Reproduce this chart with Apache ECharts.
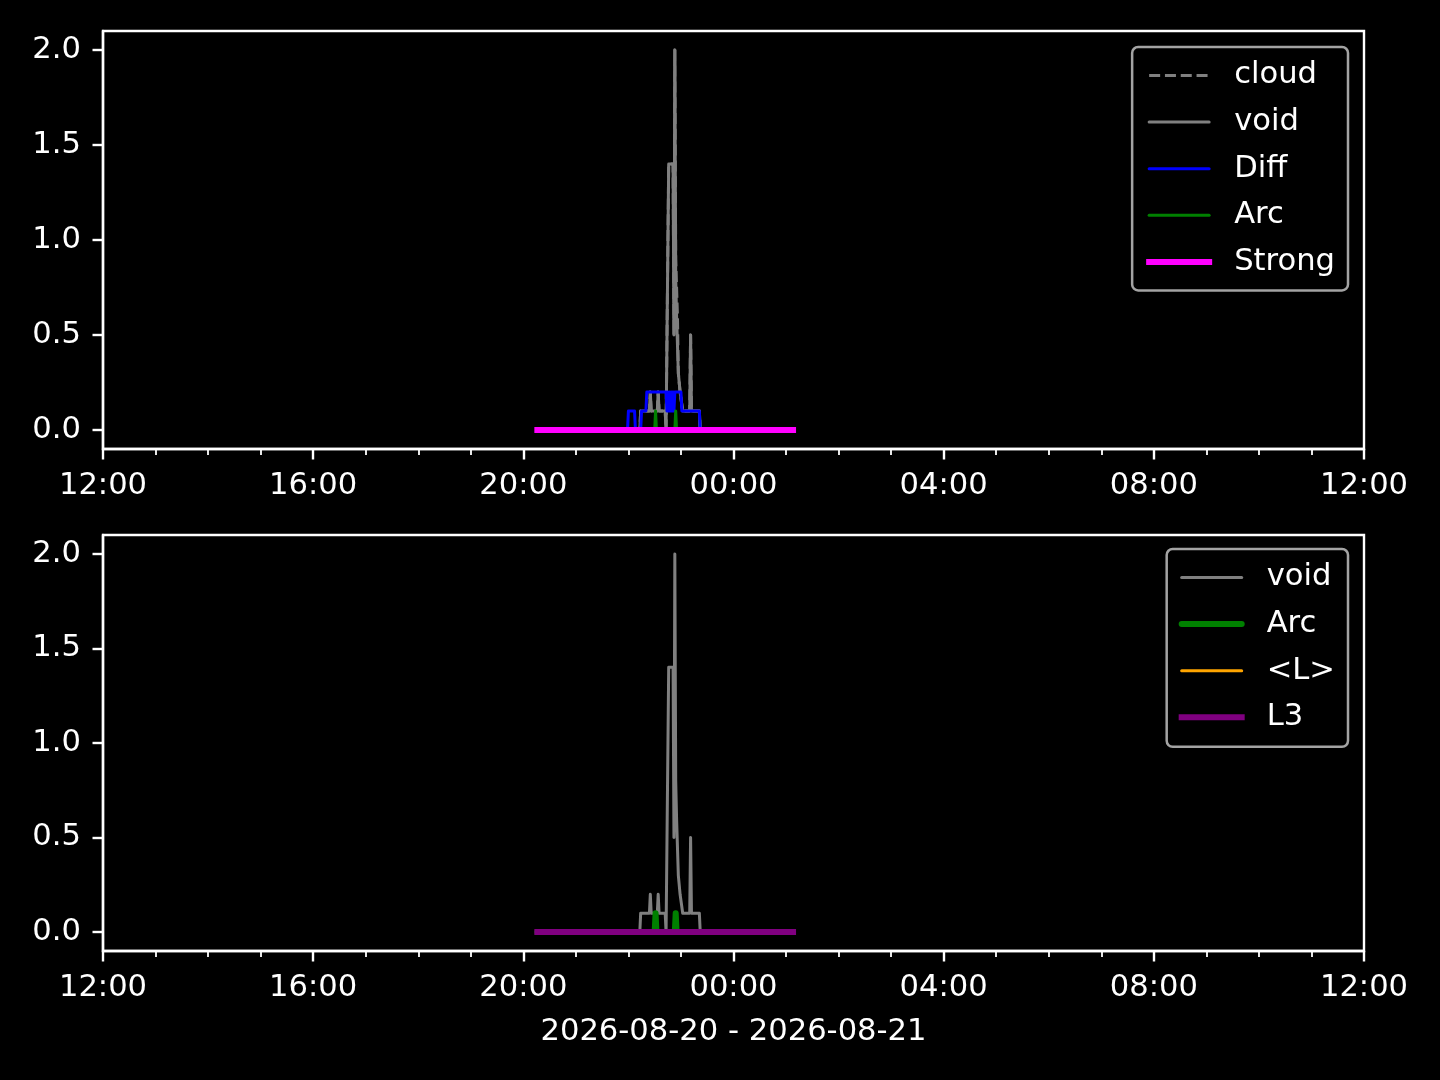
<!DOCTYPE html>
<html>
<head>
<meta charset="utf-8">
<script src="https://cdn.jsdelivr.net/npm/echarts@6/dist/echarts.min.js"></script>
<style>
html,body{margin:0;padding:0;background:#000;}
#chart{width:1440px;height:1080px;}
</style>
</head>
<body>
<div id="chart"></div>
<script>
// ---- data (times on 2026-08-20 / 2026-08-21, HH:MM) ----
const xTickLabels = ['12:00','16:00','20:00','00:00','04:00','08:00','12:00'];
const yTickValues = [0, 0.5, 1.0, 1.5, 2.0];
const xAxisTitle = '2026-08-20 - 2026-08-21';

const voidTimes  = ['20:16','22:13','22:14','22:24','22:25','22:26','22:33','22:34','22:35','22:42','22:43','22:45','22:46','22:51','22:52','22:53','22:54','22:55','22:57','22:59','23:01','23:02','23:10','23:11','23:12','23:21','23:22','01:08'];
const voidValues = [0,0,0.1,0.1,0.2,0.1,0.1,0.2,0.1,0.1,0,0,1.4,1.4,0.5,2.0,0.8,0.6,0.3,0.2,0.2,0.1,0.1,0.5,0.1,0.1,0,0];

const cloudTimes  = ['20:16','22:13','22:14','22:24','22:25','22:26','22:33','22:34','22:35','22:42','22:43','22:45','22:46','22:51','22:52','22:53','22:54','22:56','22:57','22:59','23:01','23:02','23:10','23:11','23:12','23:21','23:22','01:08'];
const cloudValues = [0,0,0.1,0.1,0.2,0.1,0.1,0.2,0.1,0.1,0,0,1.4,1.4,0.5,2.0,0.9,0.6,0.3,0.2,0.2,0.1,0.1,0.5,0.1,0.1,0,0];

const diffTimes  = ['20:16','21:59','22:00','22:07','22:08','22:14','22:15','22:20','22:21','22:43','22:44','22:45','22:46','22:47','22:48','22:49','22:50','22:51','22:52','22:53','23:00','23:01','23:21','23:22','01:08'];
const diffValues = [0,0,0.1,0.1,0,0,0.1,0.1,0.2,0.2,0.1,0.2,0.1,0.2,0.1,0.2,0.1,0.2,0.1,0.2,0.2,0.1,0.1,0,0];

const arcTimes  = ['20:16','22:30','22:31','22:32','22:53','22:54','22:55','01:08'];
const arcValues = [0,0,0.1,0,0,0.1,0,0];

const strongTimes  = ['20:16','01:08'];
const strongValues = [0,0];

const lTimes  = ['20:16','01:08'];
const lValues = [0,0];

const l3Times  = ['20:16','01:08'];
const l3Values = [0,0];

// ---- helpers ----
function toH(t){
  const [hh, mm] = t.split(':').map(Number);
  let h = hh + mm/60 - 12;
  if (hh < 12) h += 24;
  return h;
}
function pts(times, vals){ return times.map((t,i)=>[toH(t), vals[i]]); }

const FONT = 'DejaVu Sans';
const FS = 30.6;
const GRAY = '#808080';

function xAxisCfg(gridIndex, withName){
  const a = {
    type:'value', gridIndex, min:0, max:24, interval:4,
    axisLine:{show:true, onZero:false, lineStyle:{color:'#fff', width:2.4}},
    axisTick:{show:true, length:10.5, lineStyle:{color:'#fff', width:2.4}},
    minorTick:{show:true, splitNumber:4, length:6, lineStyle:{color:'#fff', width:1.8}},
    splitLine:{show:false}, minorSplitLine:{show:false},
    axisLabel:{color:'#fff', fontFamily:FONT, fontSize:FS, lineHeight:30, margin:22,
      formatter:(v)=>xTickLabels[Math.round(v/4)]}
  };
  if (withName){
    a.name = xAxisTitle;
    a.nameLocation = 'middle';
    a.nameGap = 66;
    a.nameTextStyle = {color:'#fff', fontFamily:FONT, fontSize:FS, lineHeight:30};
  }
  return a;
}
function yAxisCfg(gridIndex){
  return {
    type:'value', gridIndex, min:-0.1, max:2.1,
    axisLine:{show:true, onZero:false, lineStyle:{color:'#fff', width:2.4}},
    axisTick:{show:true, length:10.5, customValues:yTickValues, lineStyle:{color:'#fff', width:2.4}},
    splitLine:{show:false},
    axisLabel:{color:'#fff', fontFamily:FONT, fontSize:FS, lineHeight:30, margin:22,
      customValues:yTickValues, formatter:(v)=>Number(v).toFixed(1)}
  };
}
function line(name, xi, data, color, width, extra){
  return Object.assign({
    name, type:'line', xAxisIndex:xi, yAxisIndex:xi, data,
    symbol:'none', showSymbol:false, animation:false, silent:true,
    lineStyle:{color, width, join:'round', cap:'round'},
    itemStyle:{color}
  }, extra||{});
}
const HIDE = {opacity:0};

const chart = echarts.init(document.getElementById('chart'), null, {renderer:'canvas'});
const legendCommon = {
  orient:'vertical', backgroundColor:'#000', borderColor:'#a3a3a3', borderWidth:2.5, borderRadius:6,
  itemWidth:60, itemHeight:14, itemGap:15.6, selectedMode:false,
  textStyle:{color:'#fff', fontFamily:FONT, fontSize:FS, lineHeight:30, padding:[0,0,0,20]}
};
chart.setOption({
  backgroundColor:'#000',
  animation:false,
  grid:[
    {left:103, right:76, top:31, height:418, show:true, borderColor:'#fff', borderWidth:2.4, backgroundColor:'#000'},
    {left:103, right:76, top:535, height:416, show:true, borderColor:'#fff', borderWidth:2.4, backgroundColor:'#000'}
  ],
  xAxis:[xAxisCfg(0,false), xAxisCfg(1,true)],
  yAxis:[yAxisCfg(0), yAxisCfg(1)],
  legend:[
    Object.assign({}, legendCommon, {right:92, top:47, padding:[13,13,13,14],
      data:[
        {name:'cloud', itemStyle:HIDE, lineStyle:{color:GRAY, width:3, type:[11,4.8]}},
        {name:'void', itemStyle:HIDE, lineStyle:{color:GRAY, width:3}},
        {name:'Diff', itemStyle:HIDE, lineStyle:{color:'#0000ff', width:3}},
        {name:'Arc', itemStyle:HIDE, lineStyle:{color:'#008000', width:3}},
        {name:'Strong', itemStyle:HIDE, lineStyle:{color:'#ff00ff', width:6}}
      ]}),
    Object.assign({}, legendCommon, {right:92, top:549, padding:[13,13,14,12],
      data:[
        {name:'void', itemStyle:HIDE, lineStyle:{color:GRAY, width:3}},
        {name:'Arc', itemStyle:HIDE, lineStyle:{color:'#008000', width:6}},
        {name:'<L>', itemStyle:HIDE, lineStyle:{color:'#ffa500', width:3}},
        {name:'L3', itemStyle:HIDE, lineStyle:{color:'#800080', width:6}}
      ]})
  ],
  series:[
    line('cloud', 0, pts(cloudTimes, cloudValues), GRAY, 3, {lineStyle:{color:GRAY, width:3, type:[11,4.8], join:'round'}}),
    line('void', 0, pts(voidTimes, voidValues), GRAY, 3),
    line('Diff', 0, pts(diffTimes, diffValues), '#0000ff', 3),
    line('Arc', 0, pts(arcTimes, arcValues), '#008000', 3),
    line('Strong', 0, pts(strongTimes, strongValues), '#ff00ff', 6, {lineStyle:{color:'#ff00ff', width:6, cap:'square'}}),
    line('void', 1, pts(voidTimes, voidValues), GRAY, 3),
    line('Arc', 1, pts(arcTimes, arcValues), '#008000', 6),
    line('<L>', 1, pts(lTimes, lValues), '#ffa500', 3),
    line('L3', 1, pts(l3Times, l3Values), '#800080', 6, {lineStyle:{color:'#800080', width:6, cap:'square'}})
  ]
});
</script>
</body>
</html>
